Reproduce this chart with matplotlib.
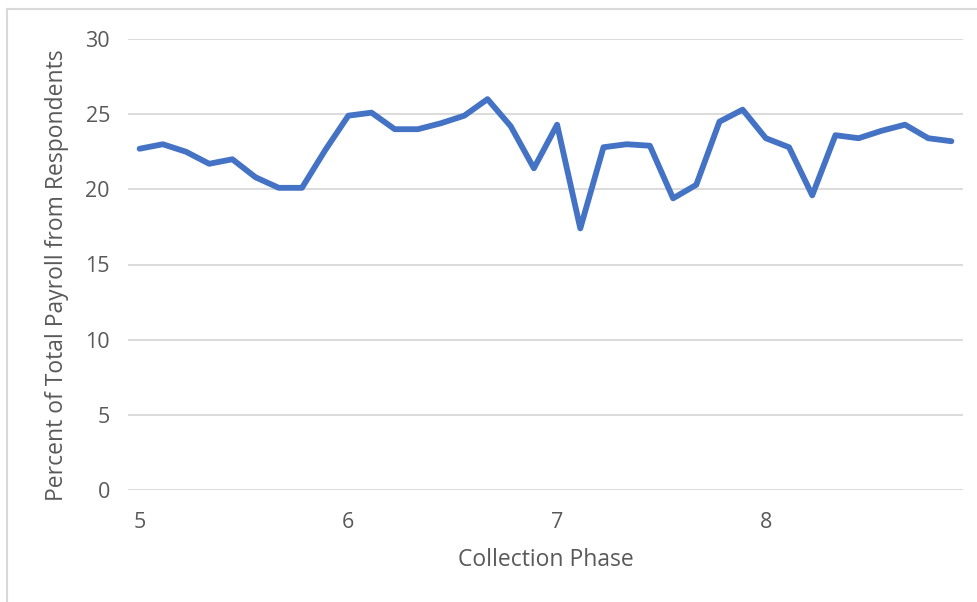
import matplotlib.pyplot as plt
from matplotlib.lines import Line2D

## weekly values, 9 collection weeks per phase (phase 8 is still running)
phase_labels = ['5', '6', '7', '8']
phase_start = [0, 9, 18, 27]
payroll_pct = [22.7, 23.0, 22.5, 21.7, 22.0, 20.8, 20.1, 20.1, 22.6,
               24.9, 25.1, 24.0, 24.0, 24.4, 24.9, 26.0, 24.2, 21.4,
               24.3, 17.4, 22.8, 23.0, 22.9, 19.4, 20.3, 24.5, 25.3,
               23.4, 22.8, 19.6, 23.6, 23.4, 23.9, 24.3, 23.4, 23.2]
y_ticks = [0, 5, 10, 15, 20, 25, 30]

plt.rcParams['font.family'] = ['Open Sans', 'DejaVu Sans']
text_col = '#595959'
grid_col = '#D9D9D9'

fig = plt.figure(figsize=(9.78, 6.02), dpi=100)
ax = fig.add_axes([128 / 978, 1 - 490 / 602, (963 - 128) / 978, (490 - 39) / 602])

x = list(range(len(payroll_pct)))
ax.plot(x, payroll_pct, color='#4472C4', linewidth=4.2, solid_joinstyle='round',
        solid_capstyle='round', zorder=3)

ax.set_xlim(-0.5, len(payroll_pct) - 0.5)
ax.set_ylim(0, 30)
ax.set_yticks(y_ticks)
ax.set_xticks(phase_start)
ax.set_xticklabels(phase_labels)
ax.grid(axis='y', color=grid_col, linewidth=1.3)
ax.set_axisbelow(True)
for s in ax.spines.values():
    s.set_visible(False)
ax.tick_params(length=0, labelsize=15.5, colors=text_col)
ax.tick_params(axis='y', pad=13)
ax.tick_params(axis='x', pad=16)

ax.set_xlabel('Collection Phase', fontsize=16.5, color=text_col, labelpad=11)
ax.set_ylabel('Percent of Total Payroll from Respondents', fontsize=16.5,
              color=text_col)
## the title sits a little below the middle of the plot in the original
ax.yaxis.set_label_coords(-0.0707, 0.477)

## thin chart-area border (only top and left show in the crop)
fig.add_artist(Line2D([7 / 978, 1], [1 - 9 / 602, 1 - 9 / 602],
                      color=grid_col, linewidth=1.5, transform=fig.transFigure))
fig.add_artist(Line2D([7.5 / 978, 7.5 / 978], [0, 1 - 9 / 602],
                      color=grid_col, linewidth=1.5, transform=fig.transFigure))

fig.savefig('out.png', dpi=100, facecolor='white')
